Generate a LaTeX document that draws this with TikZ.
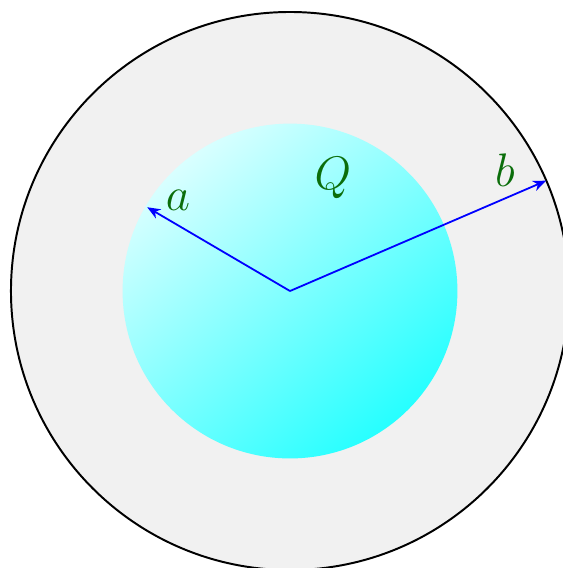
\documentclass[tikz,border=0pt]{standalone}
\usepackage{amsmath,amssymb}
\usetikzlibrary{arrows.meta,positioning,calc}
\definecolor{LabelGreen}{HTML}{0B6E0B}
\definecolor{ShellGray}{HTML}{F1F1F1}
\begin{document}
\begin{tikzpicture}[font=\Large,>={Stealth[length=4pt,width=3.2pt,inset=1.2pt]},line width=.6pt]
\useasboundingbox (-3.118,-2.978) rectangle (2.925,3.129);
% kulit luar
\draw[fill=ShellGray] (0,0) circle (3);
% bola bermuatan
\shade[top color=cyan!15,bottom color=cyan!85,shading angle=40] (0,0) circle (1.8);
\coordinate (O) at (0,0);
\coordinate (A) at (149.6:1.78);
\coordinate (B) at (23.3:3);
% jari-jari
\draw[->,blue,line width=.55pt] (O)--(A);
\draw[->,blue,line width=.55pt] (O)--(B);
\node[LabelGreen] (la) at (-1.204,0.978) {$a$};
\node[LabelGreen] (lb) at (2.312,1.301) {$b$};
\node[LabelGreen] (lq) at (0.462,1.215) {$Q$};
\end{tikzpicture}
\end{document}
